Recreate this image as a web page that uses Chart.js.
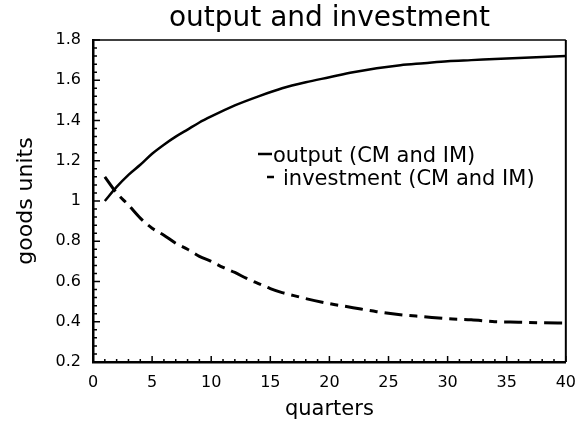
<!DOCTYPE html>
<html>
<head>
<meta charset="utf-8">
<script src="https://cdn.jsdelivr.net/npm/chart.js@4.4.1/dist/chart.umd.min.js"></script>
<style>
	body { margin: 0; background: #fff; }
	#myChart { display: block; }
</style>
</head>
<body>
<canvas id="myChart" width="587" height="429"></canvas>
<script>
	// values
	var outputQuarters = [1, 2, 3, 4, 5, 6, 7, 8, 9, 10, 12, 14, 16, 18, 20, 22, 24, 26, 28, 30, 32, 34, 36, 38, 40];
	var outputValues = [1.00, 1.07, 1.13, 1.18, 1.235, 1.28, 1.32, 1.355, 1.39, 1.42, 1.475, 1.52, 1.56, 1.59, 1.615,
			1.64, 1.66, 1.675, 1.685, 1.695, 1.70, 1.705, 1.71, 1.715, 1.72];

	var investQuarters = [1, 2, 3, 4, 5, 6, 7, 8, 9, 10, 11, 12, 13, 14, 15, 16, 17, 18, 20, 22, 24, 26, 28, 30, 32, 34, 36, 38, 40];
	var investValues = [1.12, 1.04, 0.98, 0.915, 0.865, 0.83, 0.79, 0.76, 0.725, 0.70, 0.67, 0.645, 0.615, 0.59, 0.565,
			0.545, 0.53, 0.515, 0.49, 0.47, 0.45, 0.435, 0.425, 0.415, 0.41, 0.40, 0.398, 0.395, 0.393];

	var xTicks = [0, 5, 10, 15, 20, 25, 30, 35, 40];
	var yTicks = [0.2, 0.4, 0.6, 0.8, 1, 1.2, 1.4, 1.6, 1.8];
	var yTickLabels = ['0.2', '0.4', '0.6', '0.8', '1', '1.2', '1.4', '1.6', '1.8'];

	var FONT = "'DejaVu Sans', sans-serif";

	function pairs(xs, ys) {
		var arr = [];
		for (var i = 0; i < xs.length; i++) {
			arr.push({ x : xs[i], y : ys[i] });
		}
		return arr;
	}

	// box frame, inward ticks and the text legend
	var framePlugin = {
		id : 'frame',
		afterDraw : function(chart) {
			var ctx = chart.ctx;
			var a = chart.chartArea;
			var xs = chart.scales.x, ys = chart.scales.y;
			ctx.save();
			ctx.strokeStyle = '#000';
			ctx.lineWidth = 1.5;
			ctx.beginPath();
			ctx.moveTo(a.left, a.top);
			ctx.lineTo(a.right, a.top);
			ctx.stroke();
			ctx.lineWidth = 2;
			ctx.beginPath();
			ctx.moveTo(a.right, a.top);
			ctx.lineTo(a.right, a.bottom);
			ctx.stroke();

			ctx.lineWidth = 1.5;
			ctx.beginPath();
			for (var q = 0; q <= 40; q++) {
				var px = xs.getPixelForValue(q);
				var len = (q % 5 === 0) ? 6 : 3;
				ctx.moveTo(px, a.bottom);
				ctx.lineTo(px, a.bottom - len);
			}
			for (var k = 0; k <= 40; k++) {
				var v = 0.2 + k * 0.04;
				var py = ys.getPixelForValue(v);
				var l2 = (k % 5 === 0) ? 7 : 4;
				ctx.moveTo(a.left, py);
				ctx.lineTo(a.left + l2, py);
			}
			ctx.stroke();

			// legend
			ctx.fillStyle = '#000';
			ctx.font = "21px " + FONT;
			ctx.textBaseline = 'alphabetic';
			ctx.textAlign = 'left';
			ctx.lineWidth = 2.5;
			ctx.beginPath();
			ctx.moveTo(258, 154);
			ctx.lineTo(272, 154);
			ctx.moveTo(267, 177);
			ctx.lineTo(274, 177);
			ctx.stroke();
			ctx.fillText('output (CM and IM)', 273, 162);
			ctx.fillText('investment (CM and IM)', 283, 185);
			ctx.restore();
		}
	};

	var ctx = document.getElementById('myChart');

	var config = {
		type : 'line',
		data : {
			datasets : [ {
				label : 'output (CM and IM)',
				data : pairs(outputQuarters, outputValues),
				borderColor : '#000',
				borderWidth : 2.5,
				pointRadius : 0,
				cubicInterpolationMode : 'monotone',
				fill : false
			}, {
				label : 'investment (CM and IM)',
				data : pairs(investQuarters, investValues),
				borderColor : '#000',
				borderWidth : 3,
				borderDash : [ 18, 7, 8, 7 ],
				pointRadius : 0,
				cubicInterpolationMode : 'monotone',
				fill : false
			} ]
		},
		options : {
			responsive : false,
			animation : false,
			devicePixelRatio : 1,
			layout : {
				padding : { left : 0, right : 13, top : 0, bottom : 0 }
			},
			plugins : {
				legend : { display : false },
				tooltip : { enabled : false },
				title : {
					display : true,
					text : 'output and investment',
					fullSize : false,
					color : '#000',
					font : { family : FONT, size : 28, weight : 'normal' },
					padding : { top : 1.5, bottom : 4.9 }
				}
			},
			scales : {
				x : {
					type : 'linear',
					position : 'bottom',
					min : 0,
					max : 40,
					afterFit : function(s) { s.height = 67; },
					afterBuildTicks : function(s) {
						s.ticks = xTicks.map(function(v) { return { value : v }; });
					},
					grid : { display : false, drawTicks : false },
					border : { display : true, color : '#000', width : 2.5 },
					ticks : {
						color : '#000',
						padding : 11,
						maxRotation : 0,
						font : { family : FONT, size : 16 }
					},
					title : {
						display : true,
						text : 'quarters',
						color : '#000',
						font : { family : FONT, size : 21 },
						padding : { top : 0, bottom : 6.7 }
					}
				},
				y : {
					min : 0.2,
					max : 1.8,
					afterFit : function(s) { s.width = 93; },
					afterBuildTicks : function(s) {
						s.ticks = yTicks.map(function(v) { return { value : v }; });
					},
					grid : { display : false, drawTicks : false },
					border : { display : true, color : '#000', width : 2.5 },
					ticks : {
						color : '#000',
						padding : 12,
						font : { family : FONT, size : 16 },
						callback : function(value) {
							var i = yTicks.indexOf(value);
							return i >= 0 ? yTickLabels[i] : '';
						}
					},
					title : {
						display : true,
						text : 'goods units',
						color : '#000',
						font : { family : FONT, size : 22 },
						padding : { top : 12.8, bottom : 0 }
					}
				}
			}
		},
		plugins : [ framePlugin ]
	};

	var myChart = new Chart(ctx, config);
</script>
</body>
</html>
